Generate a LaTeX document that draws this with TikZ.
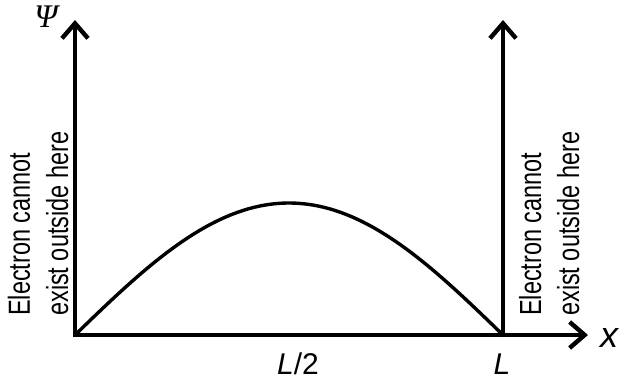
\documentclass[tikz,border=0pt]{standalone}
\usepackage{fontspec}
\setmainfont{Liberation Sans}
\newfontfamily\narrowfont[FakeStretch=0.77]{Liberation Sans}
\newfontfamily\psifont{Liberation Serif}
\usetikzlibrary{arrows.meta}

\begin{document}
\begin{tikzpicture}[
				x=1pt,
				y=1pt,
				line cap=round,
				line join=miter,
				axis/.style={line width=4.4pt,-{Straight Barb[length=15pt,width=26pt]}},
				wave/.style={line width=3.4pt},
				note/.style={font=\narrowfont\fontsize{30.5}{36}\selectfont,rotate=90,anchor=base west,inner sep=0pt},
				lbl/.style={font=\fontsize{30}{36}\selectfont\itshape,inner sep=0pt,anchor=base}
				]
				\useasboundingbox (0,0) rectangle (627,383);
				\coordinate (O) at (75,48);
				\coordinate (ytip) at (75,363);
				\coordinate (xtip) at (588,48);
				\coordinate (wall) at (503,48);
				\coordinate (walltip) at (503,363);
				
				\draw[axis,{Straight Barb[length=15pt,width=26pt]}-{Straight Barb[length=15pt,width=26pt]}]
				(ytip) -- (O) -- (xtip);
				\draw[axis] (wall) -- (walltip);
				
				\draw[wave] plot[domain=0:1,samples=80]
				({75+428*\x},{48+132*sin(180*\x)});
				
				\node[lbl,font=\psifont\fontsize{33}{38}\selectfont\itshape] (psi) at (46,355) {Ψ};
				\node[lbl,font=\fontsize{36}{40}\selectfont\itshape] (xlab) at (609,35) {x};
				\node[lbl] (half) at (298,8) {L\upshape/2};
				\node[lbl] (len) at (502,8) {L};
				
				\foreach \xb/\nm in {30/left,541/right}
				{
					\node[note] (elec-\nm) at (\xb,67) {Electron cannot};
					\node[note] (exist-\nm) at (\xb+38,67) {exist outside here};
				}
			\end{tikzpicture}
\end{document}
